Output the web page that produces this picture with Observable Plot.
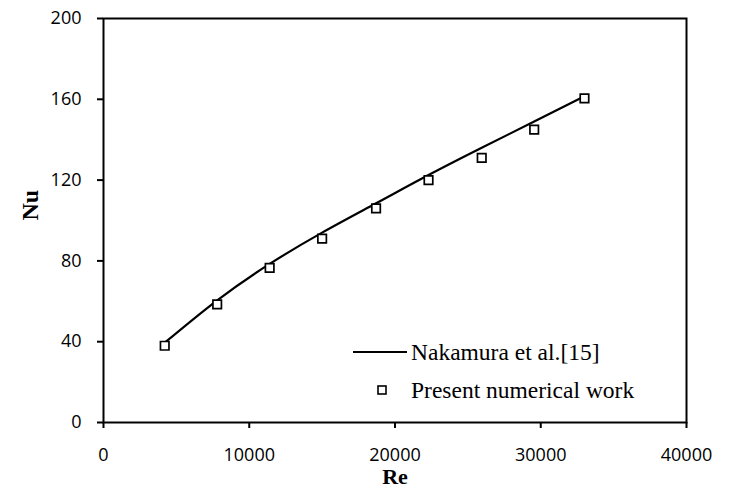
<!DOCTYPE html>
<html>
<head>
<meta charset="utf-8">
<script src="https://cdn.jsdelivr.net/npm/d3@7"></script>
<script src="https://cdn.jsdelivr.net/npm/@observablehq/plot@0.6"></script>
<style>
  html, body { margin: 0; padding: 0; background: #fff; }
  #wrap { position: relative; width: 730px; height: 489px; }
  #wrap g[aria-label="x-axis tick label"], #wrap g[aria-label="y-axis tick label"] { font-size: 18px; font-family: 'Open Sans', 'Liberation Sans', sans-serif; }
  .legend { position: absolute; height: 26px; line-height: 26px; font-family: "Liberation Serif", "Times New Roman", serif; font-size: 23.5px; color: #000; display: flex; align-items: center; white-space: nowrap; }
</style>
</head>
<body>
<div id="wrap"></div>
<script>
// Reynolds number values of the numerical work
const reValues = [4200, 7800, 11400, 15000, 18700, 22300, 25950, 29550, 33000];
// Nusselt number, present numerical work
const nuPresent = [38, 58.5, 76.5, 91, 106, 120, 131, 145, 160.5];
// Nusselt number, Nakamura et al.[15] correlation curve
const nuNakamura = [39.5, 60.5, 78.5, 94, 108.5, 122.5, 136, 149, 161.5];
const xTicks = [0, 10000, 20000, 30000, 40000];
const yTicks = [0, 40, 80, 120, 160, 200];
const seriesNames = ["Nakamura et al.[15]", "Present numerical work"];

const lineData = reValues.map((re, i) => ({re, nu: nuNakamura[i]}));
const pointData = reValues.map((re, i) => ({re, nu: nuPresent[i]}));

const tickFont = "'Open Sans', 'Liberation Sans', sans-serif";
const serif = "'Liberation Serif', 'Times New Roman', serif";

const chart = Plot.plot({
  width: 730,
  height: 489,
  marginLeft: 103,
  marginRight: 44,
  marginTop: 18,
  marginBottom: 67,
  style: {fontFamily: tickFont, fontSize: "18px", color: "#000", background: "#fff", overflow: "visible"},
  x: {domain: [0, 40000], ticks: xTicks, tickFormat: d => String(d)},
  y: {domain: [0, 200], ticks: yTicks, tickFormat: d => String(d)},
  marks: [
    Plot.frame({stroke: "#000", strokeWidth: 2}),
    Plot.axisX({ticks: xTicks, tickFormat: d => String(d), tickSize: 6, tickPadding: 20, strokeWidth: 2, label: null, fontSize: 18}),
    Plot.axisY({ticks: yTicks, tickFormat: d => String(d), tickSize: 6, tickPadding: 16, strokeWidth: 2, label: null, fontSize: 18}),
    Plot.line(lineData, {x: "re", y: "nu", curve: "natural", stroke: "#000", strokeWidth: 2.2}),
    Plot.dot(pointData, {x: "re", y: "nu", symbol: "square", r: 4.8, fill: "#fff", stroke: "#000", strokeWidth: 1.7}),
    Plot.text(["Re"], {frameAnchor: "bottom", dy: 61, fontFamily: serif, fontWeight: "bold", fontSize: 22}),
    Plot.text(["Nu"], {frameAnchor: "left", dx: -73, rotate: -90, fontFamily: serif, fontWeight: "bold", fontSize: 24})
  ]
});

const wrap = document.getElementById("wrap");
wrap.appendChild(chart);

// Legend
const leg1 = document.createElement("div");
leg1.className = "legend";
leg1.style.left = "353px";
leg1.style.top = "339px";
leg1.innerHTML = `<svg width="54" height="26" style="margin-right:4px"><line x1="0" x2="54" y1="13" y2="13" stroke="#000" stroke-width="2.2"/></svg><span>${seriesNames[0]}</span>`;
wrap.appendChild(leg1);

const leg2 = document.createElement("div");
leg2.className = "legend";
leg2.style.left = "353px";
leg2.style.top = "377px";
leg2.innerHTML = `<svg width="54" height="26" style="margin-right:4px"><rect x="25" y="9" width="8" height="8" fill="#fff" stroke="#000" stroke-width="1.6"/></svg><span>${seriesNames[1]}</span>`;
wrap.appendChild(leg2);
</script>
</body>
</html>
